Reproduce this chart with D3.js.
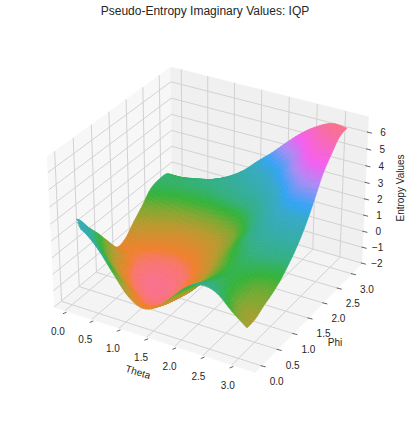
<!DOCTYPE html>
<html><head><meta charset="utf-8">
<script src="https://cdn.jsdelivr.net/npm/d3@7"></script>
<style>html,body{margin:0;padding:0;background:#fff}svg{display:block}text{font-family:"Liberation Sans",Arial,sans-serif;fill:#262626}</style>
</head><body><svg id="c" width="410" height="424"></svg>
<script>
const titleText = "Pseudo-Entropy Imaginary Values: IQP";
const thetaValues = [0,0.26,0.52,0.79,1.05,1.31,1.57,1.83,2.09,2.36,2.62,2.88,3.14];
const phiValues   = [0,0.26,0.52,0.79,1.05,1.31,1.57,1.83,2.09,2.36,2.62,2.88,3.14];
const entropyRows = [
 [3.0,2.7,1.9,0.7,-0.4,-0.85,-0.5,0.35,1.2,1.65,1.45,0.65,-0.05],
 [2.7,1.7,0.7,-0.2,-1.0,-1.2,-0.8,0.05,0.9,1.35,1.05,0.25,0.0],
 [1.8,0.7,-0.3,-1.1,-1.5,-1.5,-1.0,-0.3,0.6,1.1,0.9,0.4,0.3],
 [0.95,-0.1,-1.0,-1.6,-1.8,-1.55,-1.0,-0.3,0.5,1.0,0.95,0.55,0.55],
 [0.05,-0.6,-1.4,-1.85,-1.85,-1.5,-0.9,-0.2,0.55,1.1,1.2,1.0,0.9],
 [-0.8,-1.0,-1.5,-1.75,-1.65,-1.3,-0.75,-0.05,0.75,1.3,1.6,1.55,1.4],
 [-0.7,-0.9,-1.2,-1.35,-1.25,-0.95,-0.45,0.2,1.0,1.65,2.1,2.2,2.0],
 [-0.1,-0.4,-0.7,-0.85,-0.8,-0.6,-0.2,0.4,1.2,2.0,2.6,2.9,2.8],
 [0.45,0.2,-0.1,-0.4,-0.35,-0.2,0.1,0.7,1.5,2.4,3.3,3.7,3.8],
 [1.08,0.9,0.7,0.6,0.55,0.65,0.8,1.3,2.1,3.0,3.9,4.7,4.9],
 [1.25,1.25,1.25,1.25,1.3,1.45,1.8,2.2,2.9,3.8,4.8,5.5,5.6],
 [1.2,1.2,1.35,1.5,1.75,2.0,2.4,2.9,3.5,4.4,5.4,6.0,6.2],
 [0.6,0.66,0.85,1.17,1.6,2.2,3.0,3.75,4.6,5.4,6.0,6.4,6.35]
];
const xTicks=[0,0.5,1,1.5,2,2.5,3], yTicks=[0,0.5,1,1.5,2,2.5,3], zTicks=[-2,-1,0,1,2,3,4,5,6];
const xDomain=[-0.2,3.4], yDomain=[-0.2,3.36], zDomain=[-2.03,6.9];
const colorT=[0,0.06,0.1,0.2,0.27,0.335,0.4,0.47,0.58,0.64,0.75,0.85,0.93,1];
const colorStops=["#f9708c","#f8766a","#f0802c","#b89a2f","#80a830","#33b33a","#33b080","#34ada0","#36a9c8","#33a4f5","#a88cf5","#f55ef0","#f766c0","#f9708c"];
const colorDomain=[-1.85,6.4];
const cornerCut=[0.3,0.28]; // the surface's near corner is not present in the picture

const svg=d3.select("#c");
const bx=1.1905,by=1.1905,bz=0.893;
const xS=d3.scaleLinear().domain(xDomain).range([0,bx]);
const yS=d3.scaleLinear().domain(yDomain).range([0,by]);
const zS=d3.scaleLinear().domain(zDomain).range([0,bz]);
const el=30*Math.PI/180,az=-60*Math.PI/180,dist=10;
const R=[bx/2,by/2,bz/2];
const w=[Math.cos(el)*Math.cos(az),Math.cos(el)*Math.sin(az),Math.sin(el)];
const eye=[R[0]+dist*w[0],R[1]+dist*w[1],R[2]+dist*w[2]];
const un=Math.hypot(w[0],w[1]);
const u=[-w[1]/un,w[0]/un,0];
const v=[w[1]*u[2]-w[2]*u[1],w[2]*u[0]-w[0]*u[2],w[0]*u[1]-w[1]*u[0]];
const dot=(a,b)=>a[0]*b[0]+a[1]*b[1]+a[2]*b[2];
function raw(bp){const p=[bp[0]-eye[0],bp[1]-eye[1],bp[2]-eye[2]];const zv=dot(p,w);return [dot(p,u)/-zv,dot(p,v)/-zv,-zv];}
const fit=[[[0,0,0],[54,308]],[[bx,0,0],[255,373]],[[bx,by,0],[363,262]],[[0,by,bz],[170,67]],[[0,0,bz],[48,157]],[[bx,by,bz],[368,117]]];
const rs=fit.map(f=>raw(f[0]));
const mx=d3.mean(rs,r=>r[0]),my=d3.mean(rs,r=>r[1]),sxm=d3.mean(fit,f=>f[1][0]),sym=d3.mean(fit,f=>f[1][1]);
const ax=d3.sum(rs,(r,i)=>(r[0]-mx)*(fit[i][1][0]-sxm))/d3.sum(rs,r=>(r[0]-mx)**2);
const ay=d3.sum(rs,(r,i)=>(r[1]-my)*(fit[i][1][1]-sym))/d3.sum(rs,r=>(r[1]-my)**2);
const scrX=d3.scaleLinear().domain([mx,mx+1]).range([sxm,sxm+ax]);
const scrY=d3.scaleLinear().domain([my,my+1]).range([sym,sym+ay]);
function P(x,y,z){const r=raw([xS(x),yS(y),zS(z)]);return [scrX(r[0]),scrY(r[1]),r[2]];}
const line=d3.line();
const [x0,x1]=xDomain,[y0,y1]=yDomain,[z0,z1]=zDomain;
function poly(pts,fill){svg.append("path").attr("d",line(pts.map(p=>P(...p).slice(0,2)))+"Z").attr("fill",fill).attr("stroke",fill).attr("stroke-width",0.5);}
poly([[x0,y0,z0],[x0,y1,z0],[x0,y1,z1],[x0,y0,z1]],"#f7f7f7");
poly([[x0,y1,z0],[x1,y1,z0],[x1,y1,z1],[x0,y1,z1]],"#f0f0f0");
poly([[x0,y0,z0],[x1,y0,z0],[x1,y1,z0],[x0,y1,z0]],"#f4f4f4");
const grid=svg.append("g").attr("fill","none").attr("stroke","#d2d2d2").attr("stroke-width",1);
function gl(pts){grid.append("path").attr("d",line(pts.map(p=>P(...p).slice(0,2))));}
xTicks.forEach(t=>gl([[t,y0,z0],[t,y1,z0],[t,y1,z1]]));
yTicks.forEach(t=>gl([[x1,t,z0],[x0,t,z0],[x0,t,z1]]));
zTicks.forEach(t=>gl([[x0,y0,t],[x0,y1,t],[x1,y1,t]]));

const colorScale=d3.scaleLinear().domain(colorT.map(t=>colorDomain[0]+t*(colorDomain[1]-colorDomain[0]))).range(colorStops).interpolate(d3.interpolateRgb).clamp(true);
const n=thetaValues.length,m=phiValues.length,sub=5;
const cr=(p0,p1,p2,p3,t)=>0.5*(2*p1+(p2-p0)*t+(2*p0-5*p1+4*p2-p3)*t*t+(3*p1-p0-3*p2+p3)*t*t*t);
function ext(arr,i){if(i<0)return 2*arr[0]-arr[1];if(i>=arr.length)return 2*arr[arr.length-1]-arr[arr.length-2];return arr[i];}
function shade(i,fi,j,fj){
  const col=[];
  for(let b=-1;b<=2;b++){
    const row=entropyRows[Math.max(0,Math.min(m-1,j+b))];
    col.push(cr(ext(row,i-1),ext(row,i),ext(row,i+1),ext(row,i+2),fi));
  }
  return cr(col[0],col[1],col[2],col[3],fj);
}
const N=(n-1)*sub,M=(m-1)*sub;
const gridZ=[],gridP=[],gridT=[],gridH=[];
for(let b=0;b<=M;b++){gridZ.push([]);gridP.push([]);gridT.push([]);gridH.push([]);
  const j=Math.min(Math.floor(b/sub),m-2),fj=b/sub-j;
  const ph=phiValues[j]+(phiValues[j+1]-phiValues[j])*fj;
  for(let a=0;a<=N;a++){const i=Math.min(Math.floor(a/sub),n-2),fi=a/sub-i;
    const th=thetaValues[i]+(thetaValues[i+1]-thetaValues[i])*fi;
    const z=shade(i,fi,j,fj);gridZ[b].push(z);gridT[b].push(th);gridH[b].push(ph);gridP[b].push(P(th,ph,z));}}
const quads=[];
for(let b=0;b<M;b++)for(let a=0;a<N;a++){
  if(gridT[b+1][a+1]/cornerCut[0]+gridH[b+1][a+1]/cornerCut[1]<1.01)continue;
  const c=[gridP[b][a],gridP[b][a+1],gridP[b+1][a+1],gridP[b+1][a]];
  quads.push({d:d3.mean(c,p=>p[2]),pts:c.map(p=>[p[0],p[1]]),z:(gridZ[b][a]+gridZ[b][a+1]+gridZ[b+1][a+1]+gridZ[b+1][a])/4});
}
quads.sort((p,q)=>q.d-p.d);
svg.append("g").selectAll("path").data(quads).join("path")
 .attr("d",q=>line(q.pts)+"Z").attr("fill",q=>colorScale(q.z)).attr("stroke",q=>colorScale(q.z)).attr("stroke-width",0.7);

const tk=svg.append("g").attr("stroke","#3a3a3a").attr("stroke-width",0.8);
const lab=svg.append("g").attr("font-size",10).attr("text-anchor","middle");
function seg(a,b){tk.append("line").attr("x1",a[0]).attr("y1",a[1]).attr("x2",b[0]).attr("y2",b[1]);}
const fmt=d3.format(".1f");
xTicks.forEach(t=>{const p=P(t,y0,z0);seg([p[0]+1.5,p[1]+1.5],[p[0]-2.2,p[1]+3]);
  lab.append("text").attr("x",p[0]-7+t).attr("y",p[1]+24).text(fmt(t));});
yTicks.forEach(t=>{const p=P(x1,t,z0);seg([p[0]-1,p[1]-0.3],[p[0]+4,p[1]+1]);
  lab.append("text").attr("x",p[0]+15).attr("y",p[1]+19).text(fmt(t));});
zTicks.forEach(t=>{const p=P(x1,y1,t);seg([p[0]-1,p[1]-0.3],[p[0]+4,p[1]+1]);
  lab.append("text").attr("x",p[0]+15).attr("y",p[1]+4).text(t<0?"\u2212"+(-t):t);});
svg.append("text").attr("x",205).attr("y",15).attr("text-anchor","middle").attr("font-size",12).text(titleText);
svg.append("text").attr("transform","translate(138,372) rotate(17)").attr("text-anchor","middle").attr("dy","0.35em").attr("font-size",10).text("Theta");
svg.append("text").attr("x",335).attr("y",342).attr("text-anchor","middle").attr("dy","0.35em").attr("font-size",10).text("Phi");
svg.append("text").attr("transform","translate(400,188) rotate(-90)").attr("text-anchor","middle").attr("dy","0.35em").attr("font-size",10).text("Entropy Values");
</script></body></html>
